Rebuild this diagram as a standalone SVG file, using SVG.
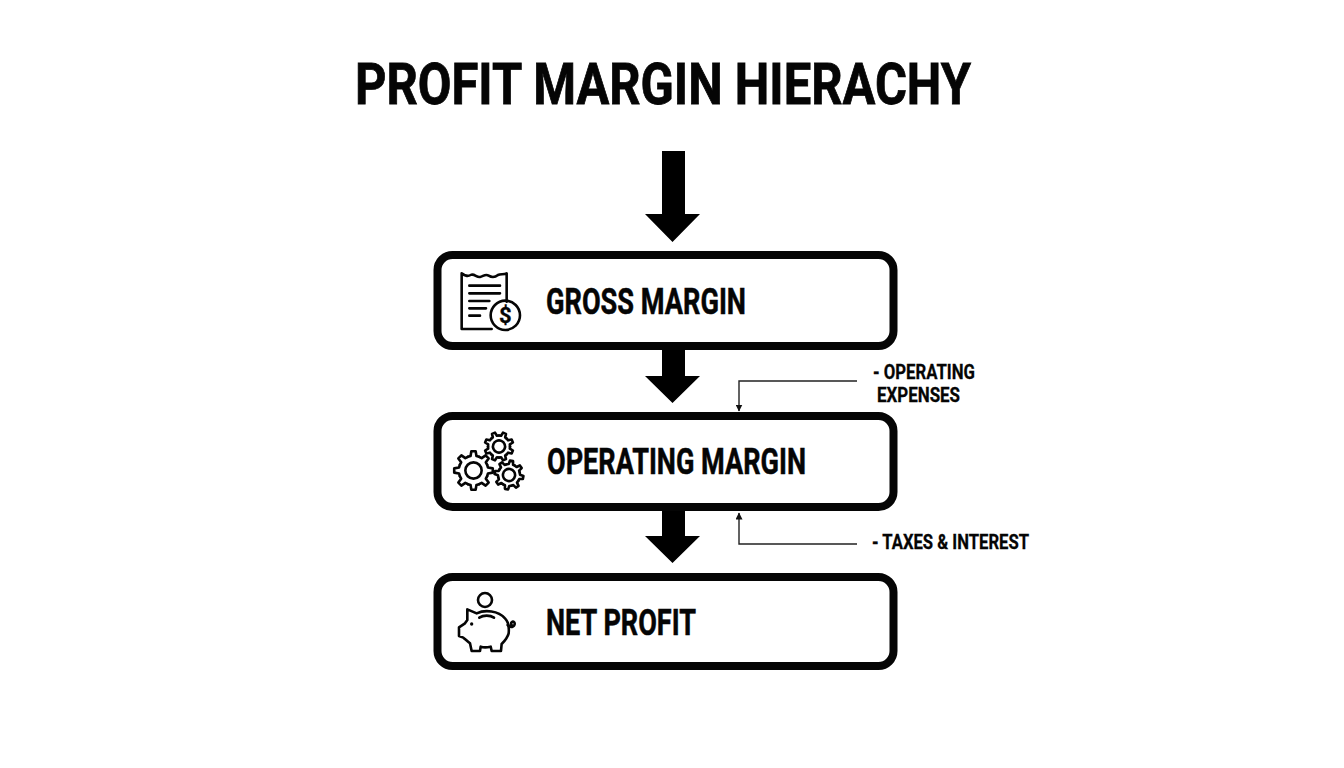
<svg xmlns="http://www.w3.org/2000/svg" xmlns:xlink="http://www.w3.org/1999/xlink" width="1344" height="768" viewBox="0 0 1344 768">
<style>
text{font-family:Roboto,"Liberation Sans",sans-serif;font-weight:700;fill:#050505;stroke:#050505}
.box{fill:#fff;stroke:#050505;stroke-width:8}
.big{fill:#000}
.thin{fill:none;stroke:#222;stroke-width:1.4}
.lbl{font-size:36px;stroke-width:.5}
.side{font-size:21px;stroke-width:.3}
.ic{fill:none;stroke:#050505;stroke-width:2.600;stroke-linejoin:round;stroke-linecap:round;vector-effect:non-scaling-stroke}
</style>
<defs>
<marker id="tip" markerUnits="userSpaceOnUse" markerWidth="8" markerHeight="7" refX="6.5" refY="3.5" orient="auto"><path d="M0,0L7,3.5L0,7Z" fill="#111"/></marker>
<path id="tooth" class="ic" d="M-5.55,-13.4L-2.9,-14.2L-2.1,-18.9L2.1,-18.9L2.9,-14.2L5.55,-13.4"/>
<g id="gear">
<use xlink:href="#tooth"/><use xlink:href="#tooth" transform="rotate(45)"/><use xlink:href="#tooth" transform="rotate(90)"/><use xlink:href="#tooth" transform="rotate(135)"/><use xlink:href="#tooth" transform="rotate(180)"/><use xlink:href="#tooth" transform="rotate(225)"/><use xlink:href="#tooth" transform="rotate(270)"/><use xlink:href="#tooth" transform="rotate(315)"/>
<circle r="8" class="ic"/>
</g>
</defs>
<rect width="1344" height="768" fill="#fff"/>
<text id="title" x="355" y="104" font-size="58" stroke-width="0.8" textLength="616" lengthAdjust="spacingAndGlyphs">PROFIT MARGIN HIERACHY</text>
<g id="connectors">
<path class="big" d="M662,151H685V214H700L672.500,242L645,214H662Z"/>
<path class="big" d="M662,348H685V376H700L672.500,403L645,376H662Z"/>
<path class="big" d="M662,509H685V536H700L672.500,563L645,536H662Z"/>
<path class="thin" d="M857,381H739V411" marker-end="url(#tip)"/>
<path class="thin" d="M857,544H739V513" marker-end="url(#tip)"/>
</g>
<g id="gross-margin">
<rect class="box" x="437.500" y="255" width="456" height="91" rx="15"/>
<g transform="translate(430,245) scale(0.3333)">
<path class="ic" d="M185,252H95V85C105,92 112,96 122,90C132,84 140,98 150,96C160,94 166,86 176,92C186,98 194,98 204,90C212,86 222,90 230,85V170"/>
<path class="ic" d="M118,122H210M118,145H210M118,168H178M118,190H168M118,212H150"/>
<circle class="ic" cx="226" cy="211" r="44"/>
</g>
<text x="505.300" y="323" font-size="22" stroke-width="0.3" text-anchor="middle">$</text>
<text class="lbl" x="546" y="314" textLength="200" lengthAdjust="spacingAndGlyphs">GROSS MARGIN</text>
</g>
<g id="operating-margin">
<rect class="box" x="437.500" y="416" width="456" height="91" rx="15"/>
<use xlink:href="#gear" transform="translate(473.500,470.500) scale(1.02)"/>
<use xlink:href="#gear" transform="translate(499,446.500) scale(0.76) rotate(22.5)"/>
<use xlink:href="#gear" transform="translate(509,475) scale(0.76) rotate(10)"/>
<text class="lbl" x="547" y="474" textLength="259" lengthAdjust="spacingAndGlyphs">OPERATING MARGIN</text>
</g>
<g id="net-profit">
<rect class="box" x="437.500" y="577" width="456" height="89" rx="15"/>
<g transform="translate(430,570) scale(0.3333)">
<circle class="ic" cx="165" cy="90" r="21"/>
<path class="ic" d="M112,118L140,130C165,118 205,122 225,145C235,155 238,170 236,190C232,205 222,215 215,222L213,243H185L182,230C170,233 160,233 152,230L150,243H125L120,220C110,212 105,207 100,203L87,198V172L105,160L112,150Z"/>
<path class="ic" d="M233,165C245,178 258,165 253,157C248,152 240,158 245,165"/>
<path class="ic" d="M148,143C160,135 180,135 192,143"/>
<circle cx="125" cy="162" r="5" fill="#050505"/>
</g>
<text class="lbl" x="546" y="635" textLength="150" lengthAdjust="spacingAndGlyphs">NET PROFIT</text>
</g>
<g id="operating-expenses">
<text class="side" x="873" y="379" textLength="102" lengthAdjust="spacingAndGlyphs">- OPERATING</text>
<text class="side" x="877" y="402" textLength="83" lengthAdjust="spacingAndGlyphs">EXPENSES</text>
</g>
<g id="taxes-interest">
<text class="side" x="872" y="549" textLength="157" lengthAdjust="spacingAndGlyphs">- TAXES &amp; INTEREST</text>
</g>
</svg>
